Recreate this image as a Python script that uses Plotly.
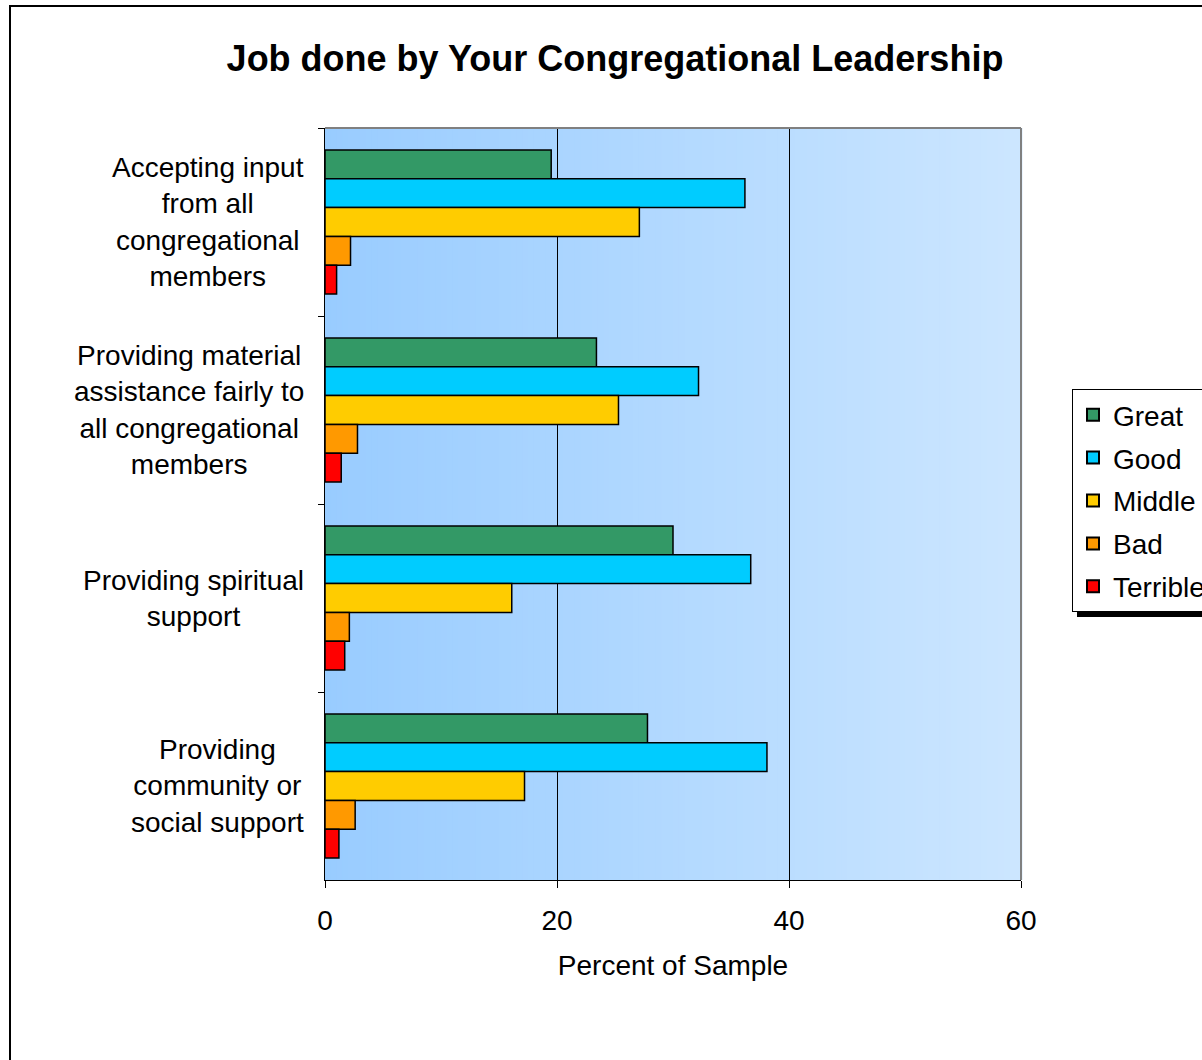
import plotly.graph_objects as go

categories = [
    "Accepting input<br>from all<br>congregational<br>members",
    "Providing material<br>assistance fairly to<br>all congregational<br>members",
    "Providing spiritual<br>support",
    "Providing<br>community or<br>social support",
]
series_names = ["Great", "Good", "Middle", "Bad", "Terrible"]
great = [19.5, 23.4, 30.0, 27.8]
good = [36.2, 32.2, 36.7, 38.1]
middle = [27.1, 25.3, 16.1, 17.2]
bad = [2.2, 2.8, 2.1, 2.6]
terrible = [1.0, 1.4, 1.7, 1.2]
colors = ["#339966", "#00CCFF", "#FFCC00", "#FF9900", "#FF0000"]
x_ticks = [0, 20, 40, 60]

W, H = 1202, 1060
L, R, T, B = 325, 1021, 128, 880
pw, ph = R - L, B - T

def px_x(p):
    return (p - L) / pw

def px_y(p):
    return (B - p) / ph

FONT = "Liberation Sans, Arial"

fig = go.Figure()
for name, vals, col in zip(series_names, [great, good, middle, bad, terrible], colors):
    fig.add_trace(go.Bar(
        y=categories, x=vals, name=name, orientation="h",
        marker=dict(color=col, line=dict(color="black", width=1.5)),
        legendgroup=name,
    ))

shapes = []
N = 120
c0 = (153, 204, 255)
c1 = (204, 230, 255)
for i in range(N):
    t = i / (N - 1)
    c = tuple(round(a + (b - a) * t) for a, b in zip(c0, c1))
    shapes.append(dict(type="rect", xref="x domain", yref="y domain",
                       x0=i / N, x1=(i + 1) / N + 0.002, y0=0, y1=1,
                       fillcolor="rgb(%d,%d,%d)" % c, line=dict(width=0),
                       layer="below"))
shapes.append(dict(type="line", xref="x domain", yref="y domain", x0=0, x1=1, y0=1, y1=1,
                   line=dict(color="#808080", width=2), layer="above"))
shapes.append(dict(type="line", xref="x domain", yref="y domain", x0=1, x1=1, y0=0, y1=1,
                   line=dict(color="#808080", width=2), layer="above"))
# legend shadow
shapes.append(dict(type="rect", xref="paper", yref="paper",
                   x0=px_x(1077), x1=px_x(1230), y0=px_y(617), y1=px_y(396),
                   fillcolor="black", line=dict(width=0), layer="below"))
# outer chart border
shapes.append(dict(type="rect", xref="paper", yref="paper",
                   x0=px_x(10), x1=px_x(1240), y0=px_y(1100), y1=px_y(6),
                   fillcolor="rgba(0,0,0,0)", line=dict(color="black", width=2), layer="above"))

annotations = []
for cat in categories:
    annotations.append(dict(x=0, xref="paper", y=cat, yref="y", text=cat,
                            xanchor="right", yanchor="middle", align="center",
                            xshift=-19, showarrow=False,
                            font=dict(family=FONT, size=28, color="black")))

fig.update_layout(
    width=W, height=H,
    margin=dict(l=L, r=W - R, t=T, b=H - B, autoexpand=False),
    paper_bgcolor="white", plot_bgcolor="rgba(0,0,0,0)",
    barmode="group", bargap=0.234, bargroupgap=0,
    font=dict(family=FONT, size=28, color="black"),
    title=dict(text="<b>Job done by Your Congregational Leadership</b>",
               x=px_x(615), xref="paper", xanchor="center",
               y=1 - 58 / H, yref="container", yanchor="middle",
               font=dict(family=FONT, size=36, color="black")),
    xaxis=dict(range=[0, 60], tickvals=x_ticks, ticks="outside", ticklen=7,
               tickcolor="black", showline=True, linecolor="black", linewidth=1,
               showgrid=True, gridcolor="black", gridwidth=1, zeroline=False,
               ticklabelstandoff=8,
               tickfont=dict(size=28),
               title=dict(text="Percent of Sample", font=dict(size=28), standoff=20)),
    yaxis=dict(autorange="reversed", showticklabels=False, ticks="outside", ticklen=6,
               tickcolor="black", showline=True, linecolor="black", linewidth=1,
               tickson="boundaries", showgrid=False, zeroline=False),
    legend=dict(x=px_x(1072), xanchor="left", y=px_y(389), yanchor="top",
                bgcolor="white", bordercolor="black", borderwidth=1,
                font=dict(size=28), tracegroupgap=3.5, traceorder="grouped",
                itemsizing="constant"),
    shapes=shapes, annotations=annotations,
)

fig.write_html("out.html", config={"displayModeBar": False},
               post_script="document.body.style.margin='0';document.body.style.overflow='hidden';")
